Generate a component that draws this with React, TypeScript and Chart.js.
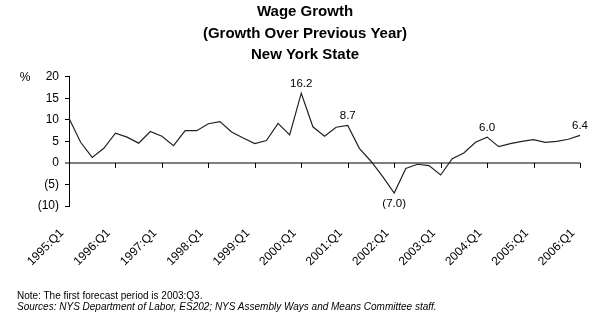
import React, { useEffect, useRef } from "react";
import { Chart, registerables } from "chart.js";

Chart.register(...registerables);

const TITLE_LINES = ["Wage Growth", "(Growth Over Previous Year)", "New York State"];
const NOTE_TEXT = "Note: The first forecast period is 2003:Q3.";
const SOURCE_TEXT = "Sources: NYS Department of Labor, ES202; NYS Assembly Ways and Means Committee staff.";
const Y_UNIT = "%";

const QUARTERS = [
  "1995:Q1", "1995:Q2", "1995:Q3", "1995:Q4",
  "1996:Q1", "1996:Q2", "1996:Q3", "1996:Q4",
  "1997:Q1", "1997:Q2", "1997:Q3", "1997:Q4",
  "1998:Q1", "1998:Q2", "1998:Q3", "1998:Q4",
  "1999:Q1", "1999:Q2", "1999:Q3", "1999:Q4",
  "2000:Q1", "2000:Q2", "2000:Q3", "2000:Q4",
  "2001:Q1", "2001:Q2", "2001:Q3", "2001:Q4",
  "2002:Q1", "2002:Q2", "2002:Q3", "2002:Q4",
  "2003:Q1", "2003:Q2", "2003:Q3", "2003:Q4",
  "2004:Q1", "2004:Q2", "2004:Q3", "2004:Q4",
  "2005:Q1", "2005:Q2", "2005:Q3", "2005:Q4",
  "2006:Q1",
];

const WAGE_GROWTH = [
  10.4, 4.8, 1.3, 3.4, 6.9, 6.0, 4.6, 7.3, 6.2, 4.0,
  7.5, 7.5, 9.1, 9.6, 7.2, 5.8, 4.5, 5.2, 9.2, 6.5,
  16.2, 8.4, 6.2, 8.3, 8.7, 3.4, 0.4, -3.1, -7.0, -1.3,
  -0.3, -0.6, -2.8, 1.0, 2.3, 4.8, 6.0, 3.8, 4.5, 5.0,
  5.4, 4.8, 5.0, 5.5, 6.4,
];

const LABELLED_POINTS = [20, 24, 28, 36, 44];
const LABELLED_TICKS = [
  "1995:Q1", "1996:Q1", "1997:Q1", "1998:Q1", "1999:Q1", "2000:Q1",
  "2001:Q1", "2002:Q1", "2003:Q1", "2004:Q1", "2005:Q1", "2006:Q1",
];
const Y_MIN = -10;
const Y_MAX = 20;
const Y_STEP = 5;

const FONT = "'Liberation Sans', Arial, sans-serif";

const fmtNum = (v: number) => (v < 0 ? `(${Math.abs(v).toFixed(1)})` : v.toFixed(1));
const fmtTick = (v: number) => (v < 0 ? `(${Math.abs(v)})` : `${v}`);

const decorPlugin = {
  id: "decor",
  beforeDatasetsDraw(chart: any) {
    const { ctx } = chart;
    const x = chart.scales.x;
    const y = chart.scales.y;
    const zeroY = y.getPixelForValue(0);
    ctx.save();
    ctx.strokeStyle = "#000";
    ctx.lineWidth = 1;
    QUARTERS.forEach((q, i) => {
      if (i > 0 && LABELLED_TICKS.includes(q)) {
        const px = Math.round(x.getPixelForValue(i)) + 0.5;
        ctx.beginPath();
        ctx.moveTo(px, zeroY);
        ctx.lineTo(px, zeroY + 5);
        ctx.stroke();
      }
    });
    ctx.fillStyle = "#000";
    ctx.font = `12px ${FONT}`;
    ctx.textAlign = "center";
    ctx.textBaseline = "middle";
    ctx.fillText(Y_UNIT, 25, y.getPixelForValue(Y_MAX) + 1);
    ctx.restore();
  },
  afterDatasetsDraw(chart: any) {
    const { ctx } = chart;
    const meta = chart.getDatasetMeta(0);
    ctx.save();
    ctx.fillStyle = "#000";
    ctx.font = `11.5px ${FONT}`;
    ctx.textAlign = "center";
    LABELLED_POINTS.forEach((i) => {
      const pt = meta.data[i];
      const v = WAGE_GROWTH[i];
      if (v < 0) {
        ctx.textBaseline = "top";
        ctx.fillText(fmtNum(v), pt.x, pt.y + 5);
      } else {
        ctx.textBaseline = "bottom";
        ctx.fillText(fmtNum(v), pt.x, pt.y - 4);
      }
    });
    ctx.restore();
  },
};

export default function App() {
  const canvasRef = useRef<HTMLCanvasElement>(null);

  useEffect(() => {
    if (!canvasRef.current) return;
    const chart = new Chart(canvasRef.current, {
      type: "line",
      data: {
        labels: QUARTERS,
        datasets: [
          {
            data: WAGE_GROWTH,
            borderColor: "#222",
            borderWidth: 1.2,
            pointRadius: 0,
            tension: 0,
            fill: false,
          },
        ],
      },
      options: {
        animation: false,
        responsive: false,
        events: [],
        layout: { padding: { left: 30, right: 20, top: 0, bottom: 62 } },
        plugins: {
          legend: { display: false },
          tooltip: { enabled: false },
          title: {
            display: true,
            text: TITLE_LINES,
            color: "#000",
            font: { family: FONT, size: 15, weight: "bold", lineHeight: 1.43 },
            padding: { top: 1.5, bottom: 11 },
          },
        },
        scales: {
          x: {
            type: "category",
            offset: false,
            grid: { display: false, drawTicks: false },
            border: { display: false },
            afterFit: (s: any) => {
              s.height = 60;
              s.paddingLeft = 0;
              s.paddingRight = 0;
            },
            ticks: {
              autoSkip: false,
              maxRotation: 45,
              minRotation: 45,
              padding: 20,
              labelOffset: -7,
              color: "#000",
              font: { family: FONT, size: 12 },
              callback: (_v: any, i: number) =>
                LABELLED_TICKS.includes(QUARTERS[i]) ? QUARTERS[i] : "",
            },
          },
          y: {
            min: Y_MIN,
            max: Y_MAX,
            afterFit: (s: any) => {
              s.width = 39;
            },
            border: { display: true, color: "#000", width: 1 },
            grid: {
              drawOnChartArea: true,
              color: (c: any) => (c.tick && c.tick.value === 0 ? "#7f7f7f" : "rgba(0,0,0,0)"),
              lineWidth: (c: any) => (c.tick && c.tick.value === 0 ? 2 : 1),
              tickColor: "#000",
              tickLength: 4,
              tickWidth: 1,
            },
            ticks: {
              stepSize: Y_STEP,
              padding: 6,
              color: "#000",
              font: { family: FONT, size: 12 },
              callback: (v: any) => fmtTick(Number(v)),
            },
          },
        },
      },
      plugins: [decorPlugin],
    });
    return () => chart.destroy();
  }, []);

  return (
    <div style={{ position: "absolute", left: 0, top: 0, width: 600, height: 328, background: "#fff" }}>
      <canvas ref={canvasRef} width={600} height={328} style={{ position: "absolute", left: 0, top: 0 }} />
      <div
        style={{
          position: "absolute",
          left: 17,
          top: 290,
          fontFamily: FONT,
          fontSize: 10,
          lineHeight: "11px",
          color: "#000",
          whiteSpace: "nowrap",
        }}
      >
        {NOTE_TEXT}
      </div>
      <div
        style={{
          position: "absolute",
          left: 17,
          top: 301,
          fontFamily: FONT,
          fontSize: 10,
          lineHeight: "11px",
          fontStyle: "italic",
          color: "#000",
          whiteSpace: "nowrap",
        }}
      >
        {SOURCE_TEXT}
      </div>
    </div>
  );
}
